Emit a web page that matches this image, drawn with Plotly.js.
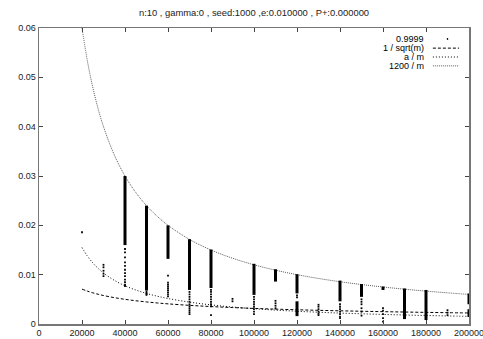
<!DOCTYPE html>
<html>
<head>
<meta charset="utf-8">
<script src="https://cdn.plot.ly/plotly-3.0.1.min.js"></script>
<style>html,body{margin:0;padding:0;background:#fff}#plot{width:483px;height:339px}</style>
</head>
<body>
<div id="plot"></div>
<script>
// ---- Data ----
// dense vertical runs of the "0.9999" series (x, low, high)
const denseX  = [40000, 50000, 60000, 70000, 80000, 100000, 110000, 120000, 120000, 140000, 150000, 160000, 170000, 180000, 200000, 200000];
const denseLo = [0.0160, 0.0068, 0.0132, 0.0069, 0.0073, 0.0059, 0.0086, 0.0062, 0.0016, 0.0046, 0.0055, 0.0069, 0.0010, 0.0008, 0.0040, 0.0014];
const denseHi = [0.0300, 0.0240, 0.0200, 0.0172, 0.0151, 0.0122, 0.0111, 0.0101, 0.0046, 0.0088, 0.0081, 0.0076, 0.0072, 0.0069, 0.0062, 0.0030];

// sparse points of the "0.9999" series
const sparseX = [
  20000,
  30000, 30000, 30000, 30000, 30000,
  40000, 40000, 40000, 40000, 40000, 40000, 40000, 40000, 40000, 40000, 40000, 40000,
  50000, 50000, 50000, 50000,
  60000, 60000, 60000, 60000, 60000, 60000, 60000, 60000, 60000,
  70000, 70000, 70000, 70000, 70000, 70000, 70000, 70000, 70000, 70000, 70000,
  80000, 80000, 80000, 80000, 80000, 80000, 80000, 80000, 80000,
  90000, 90000,
  100000, 100000, 100000, 100000, 100000, 100000, 100000, 100000,
  110000, 110000, 110000, 110000,
  120000, 120000,
  130000, 130000, 130000, 130000, 130000, 130000,
  140000, 140000, 140000, 140000, 140000, 140000, 140000,
  150000, 150000, 150000, 150000, 150000, 150000,
  160000, 160000, 160000, 160000, 160000,
  190000, 190000, 190000
];
const sparseY = [
  0.0186,
  0.0120, 0.0115, 0.0108, 0.0102, 0.0097,
  0.0152, 0.0145, 0.0135, 0.0125, 0.0118, 0.0110, 0.0103, 0.0097, 0.0090, 0.0085, 0.0080, 0.0077,
  0.0066, 0.0063, 0.0061, 0.0059,
  0.0098, 0.0084, 0.0080, 0.0076, 0.0072, 0.0068, 0.0064, 0.0060, 0.0056,
  0.0065, 0.0060, 0.0055, 0.0050, 0.0045, 0.0040, 0.0036, 0.0032, 0.0028, 0.0024, 0.0020,
  0.0069, 0.0065, 0.0060, 0.0055, 0.0050, 0.0045, 0.0040, 0.0036, 0.0018,
  0.0051, 0.0046,
  0.0055, 0.0050, 0.0045, 0.0040, 0.0035, 0.0030, 0.0025, 0.0020,
  0.0047, 0.0042, 0.0037, 0.0032,
  0.0058, 0.0054,
  0.0039, 0.0035, 0.0030, 0.0025, 0.0021, 0.0018,
  0.0040, 0.0035, 0.0030, 0.0025, 0.0020, 0.0015, 0.0012,
  0.0050, 0.0045, 0.0040, 0.0032, 0.0025, 0.0017,
  0.0032, 0.0027, 0.0020, 0.0012, 0.0005,
  0.0028, 0.0023, 0.0018
];

// reference curves sampled at m
const curveM     = [20000, 22500, 25000, 27500, 30000, 35000, 40000, 45000, 50000, 55000, 60000, 70000, 80000, 90000, 100000, 110000, 120000, 130000, 140000, 150000, 160000, 170000, 180000, 190000, 200000];
const invSqrtM   = [0.0070711, 0.0066667, 0.0063246, 0.0060302, 0.0057735, 0.0053452, 0.0050000, 0.0047140, 0.0044721, 0.0042640, 0.0040825, 0.0037796, 0.0035355, 0.0033333, 0.0031623, 0.0030151, 0.0028868, 0.0027735, 0.0026726, 0.0025820, 0.0025000, 0.0024254, 0.0023570, 0.0022942, 0.0022361];
const aOverM     = [0.0155000, 0.0137778, 0.0124000, 0.0112727, 0.0103333, 0.0088571, 0.0077500, 0.0068889, 0.0062000, 0.0056364, 0.0051667, 0.0044286, 0.0038750, 0.0034444, 0.0031000, 0.0028182, 0.0025833, 0.0023846, 0.0022143, 0.0020667, 0.0019375, 0.0018235, 0.0017222, 0.0016316, 0.0015500];
const k1200OverM = [0.0600000, 0.0533333, 0.0480000, 0.0436364, 0.0400000, 0.0342857, 0.0300000, 0.0266667, 0.0240000, 0.0218182, 0.0200000, 0.0171429, 0.0150000, 0.0133333, 0.0120000, 0.0109091, 0.0100000, 0.0092308, 0.0085714, 0.0080000, 0.0075000, 0.0070588, 0.0066667, 0.0063158, 0.0060000];

const xTicks = [0, 20000, 40000, 60000, 80000, 100000, 120000, 140000, 160000, 180000, 200000];
const yTicks = [0, 0.01, 0.02, 0.03, 0.04, 0.05, 0.06];
const yTickText = ['0', '0.01', '0.02', '0.03', '0.04', '0.05', '0.06'];
const legendLabels = ['0.9999', '1 / sqrt(m)', 'a / m', '1200 / m'];
const titleText = 'n:10 , gamma:0 , seed:1000 ,e:0.010000 , P+:0.000000';

// ---- build traces ----
const segX = [], segY = [];
for (let i = 0; i < denseX.length; i++) {
  segX.push(denseX[i], denseX[i], null);
  segY.push(denseLo[i], denseHi[i], null);
}

const FONT = 'Liberation Sans, Arial, Helvetica, sans-serif';

const traces = [
  {x: curveM, y: k1200OverM, mode: 'lines', line: {color: '#5a5a5a', width: 1, dash: '1px,1px', shape: 'spline'}, hoverinfo: 'skip'},
  {x: curveM, y: aOverM, mode: 'lines', line: {color: '#000', width: 1, dash: '1px,2px', shape: 'spline'}, hoverinfo: 'skip'},
  {x: curveM, y: invSqrtM, mode: 'lines', line: {color: '#000', width: 1, dash: '3px,2px', shape: 'spline'}, hoverinfo: 'skip'},
  {x: segX, y: segY, mode: 'lines', line: {color: '#000', width: 3}, connectgaps: false, hoverinfo: 'skip'},
  {x: sparseX, y: sparseY, mode: 'markers', marker: {symbol: 'square', size: 1.8, color: '#000', line: {width: 0}}, hoverinfo: 'skip'}
];

// legend drawn gnuplot-style (text left, sample right)
const rowY = [0.963, 0.932, 0.902, 0.872];
const annotations = legendLabels.map((t, i) => ({
  text: t, xref: 'paper', yref: 'paper', x: 0.899, y: rowY[i], xanchor: 'right', yanchor: 'middle',
  showarrow: false, font: {family: FONT, size: 9, color: '#000'}
}));
const shapes = [
  {type: 'rect', xref: 'paper', yref: 'paper', x0: 0.9485, x1: 0.9515, y0: rowY[0] - 0.003, y1: rowY[0] + 0.003, fillcolor: '#000', line: {width: 0}},
  {type: 'line', xref: 'paper', yref: 'paper', x0: 0.916, x1: 0.977, y0: rowY[1], y1: rowY[1], line: {color: '#000', width: 1, dash: '3px,2px'}},
  {type: 'line', xref: 'paper', yref: 'paper', x0: 0.916, x1: 0.977, y0: rowY[2], y1: rowY[2], line: {color: '#000', width: 1, dash: '1px,2px'}},
  {type: 'line', xref: 'paper', yref: 'paper', x0: 0.916, x1: 0.977, y0: rowY[3], y1: rowY[3], line: {color: '#5a5a5a', width: 1, dash: '1px,1px'}}
];

const axisCommon = {
  showgrid: false, zeroline: false, showline: true, linecolor: '#777', linewidth: 1.5,
  mirror: 'ticks', ticks: 'inside', ticklen: 4, tickcolor: '#444', tickwidth: 1,
  tickfont: {family: FONT, size: 9, color: '#222'}, fixedrange: true,
  ticklabeloverflow: 'allow'
};

const layout = {
  width: 483, height: 339,
  margin: {l: 39, r: 14, t: 28, b: 15, pad: 0},
  paper_bgcolor: '#fff', plot_bgcolor: '#fff',
  showlegend: false,
  title: {text: titleText, font: {family: FONT, size: 9.4, color: '#222'}, x: 0.5, xref: 'paper', xanchor: 'center', y: 1 - 13 / 339, yref: 'container', yanchor: 'middle'},
  xaxis: Object.assign({}, axisCommon, {range: [0, 200000], tickmode: 'array', tickvals: xTicks, ticktext: xTicks.map(String)}),
  yaxis: Object.assign({}, axisCommon, {range: [0, 0.06], tickmode: 'array', tickvals: yTicks, ticktext: yTickText}),
  annotations: annotations,
  shapes: shapes
};

Plotly.newPlot('plot', traces, layout, {staticPlot: true, displayModeBar: false});
</script>
</body>
</html>
